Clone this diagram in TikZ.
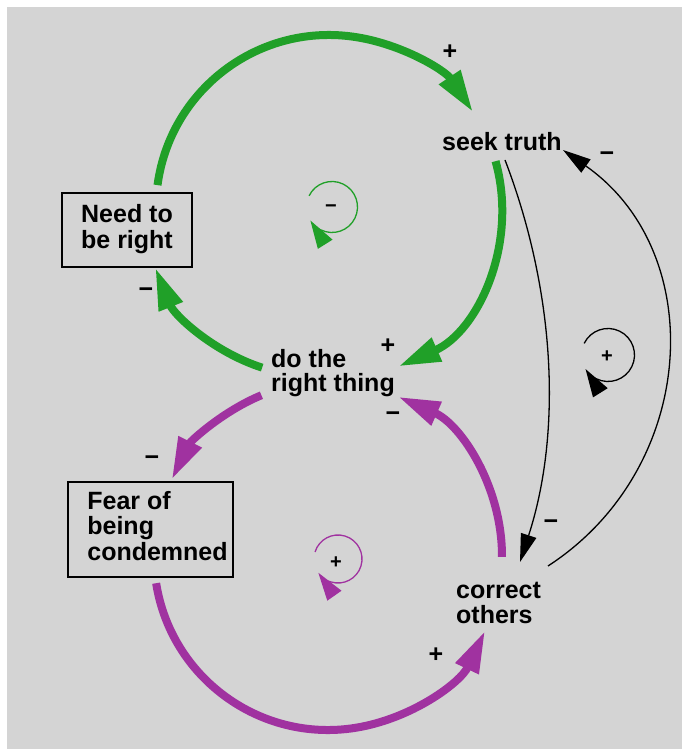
\documentclass[tikz,border=0pt]{standalone}
\usepackage{fontspec}
\setmainfont{Liberation Sans}
\usetikzlibrary{arrows.meta,calc}
\definecolor{bggray}{RGB}{212,212,212}
\definecolor{lgreen}{RGB}{32,160,40}
\definecolor{lpurple}{RGB}{160,50,160}
\begin{document}
\begin{tikzpicture}[x=1pt,y=1pt,
  lbl/.style={font=\bfseries\fontsize{25}{24.5}\selectfont, inner sep=0, align=left, anchor=north west},
  varbox/.style={draw=black, line width=1.5pt, inner sep=0, font=\bfseries\fontsize{25}{24.5}\selectfont},
  sgn/.style={font=\bfseries\fontsize{25}{25}\selectfont, inner sep=0},
  ssgn/.style={font=\bfseries\fontsize{20}{20}\selectfont, inner sep=0},
  garc/.style={draw=lgreen, line width=8pt, -{Triangle[length=42pt,width=24pt]}},
  parc/.style={draw=lpurple, line width=8pt, -{Triangle[length=42pt,width=24pt]}},
  blink/.style={draw=black, line width=1.3pt, -{Triangle[length=28pt,width=16pt]}},
  gloop/.style={draw=lgreen, line width=1.3pt, -{Triangle[length=28pt,width=17pt]}},
  ploop/.style={draw=lpurple, line width=1.3pt, -{Triangle[length=28pt,width=17pt]}},
  bloop/.style={draw=black, line width=1.3pt, -{Triangle[length=28pt,width=17pt]}}
]
\useasboundingbox (0,0) rectangle (682,749);
\fill[bggray] (7,0) rectangle (682,742);

% variables
\node[lbl] (seek) at (442,617) {seek truth};
\node[lbl] (dothe) at (271,400) {do the\\right thing};
\node[lbl] (correct) at (456,167) {correct\\others};
\node[varbox, minimum width=130, minimum height=74] (need) at (127,519)
  {\begin{tabular}{@{}l@{}}Need to\\be right\end{tabular}};
\node[varbox, minimum width=165, minimum height=95] (fear) at (150.5,219.5)
  {\begin{tabular}{@{\hspace{14pt}}l@{}}Fear of\\being\\condemned\end{tabular}};

% loop centres
\coordinate (gc) at (329,541);
\coordinate (gc2) at (315,545);
\coordinate (pc) at (328,193);

% green loop
\coordinate (gA) at ($(gc)+(172.4:173)$);
\coordinate (gB) at ($(gc)+(15.7:173)$);
\coordinate (gC) at ($(gc2)+(252.1:172)$);
\draw[garc] (gA) arc[start angle=172.4, end angle=33.7, radius=173];
\draw[garc] (gB) arc[start angle=15.7, end angle=-66.3, radius=173];
\draw[garc] (gC) arc[start angle=252.1, end angle=201.8, radius=172];

% purple loop
\coordinate (pD) at ($(pc)+(112.5:174)$);
\coordinate (pE) at ($(pc)+(189:174)$);
\coordinate (pF) at ($(pc)+(-0.3:174)$);
\draw[parc] (pD) arc[start angle=112.5, end angle=153.9, radius=174];
\draw[parc] (pE) arc[start angle=189, end angle=334.5, radius=174];
\draw[parc] (pF) arc[start angle=-0.3, end angle=66.2, radius=174];

% black links
\coordinate (hS) at (505,589);
\coordinate (hE) at (520,187);
\coordinate (iS) at (548,183);
\coordinate (iE) at (563,599);
\draw[blink] (hS) to[out=-69, in=72, looseness=0.88] (hE);
\draw[blink] (iS) to[out=33, in=-35, looseness=1.1] (iE);

% loop markers
\coordinate (gl) at (332,542);
\coordinate (pl) at (338,190);
\coordinate (bl) at (608,394);
\draw[gloop] ($(gl)+(154:25.5)$) arc[start angle=154, end angle=-148, radius=25.5];
\draw[ploop] ($(pl)+(163:24)$) arc[start angle=163, end angle=-145, radius=24];
\draw[bloop] ($(bl)+(154:26.5)$) arc[start angle=154, end angle=-148, radius=26.5];
\node[ssgn] (glsign) at (331,540) {−};
\node[ssgn] (plsign) at (336,186) {+};
\node[ssgn] (blsign) at (607,392) {+};

% polarities
\node[sgn] (s1) at (450,697) {+};
\node[sgn] (s2) at (607,592) {−};
\node[sgn] (s3) at (146,456) {−};
\node[sgn] (s4) at (388,403) {+};
\node[sgn] (s5) at (393,332) {−};
\node[sgn] (s6) at (152,288) {−};
\node[sgn] (s7) at (551,224) {−};
\node[sgn] (s8) at (436,94) {+};
\end{tikzpicture}
\end{document}
